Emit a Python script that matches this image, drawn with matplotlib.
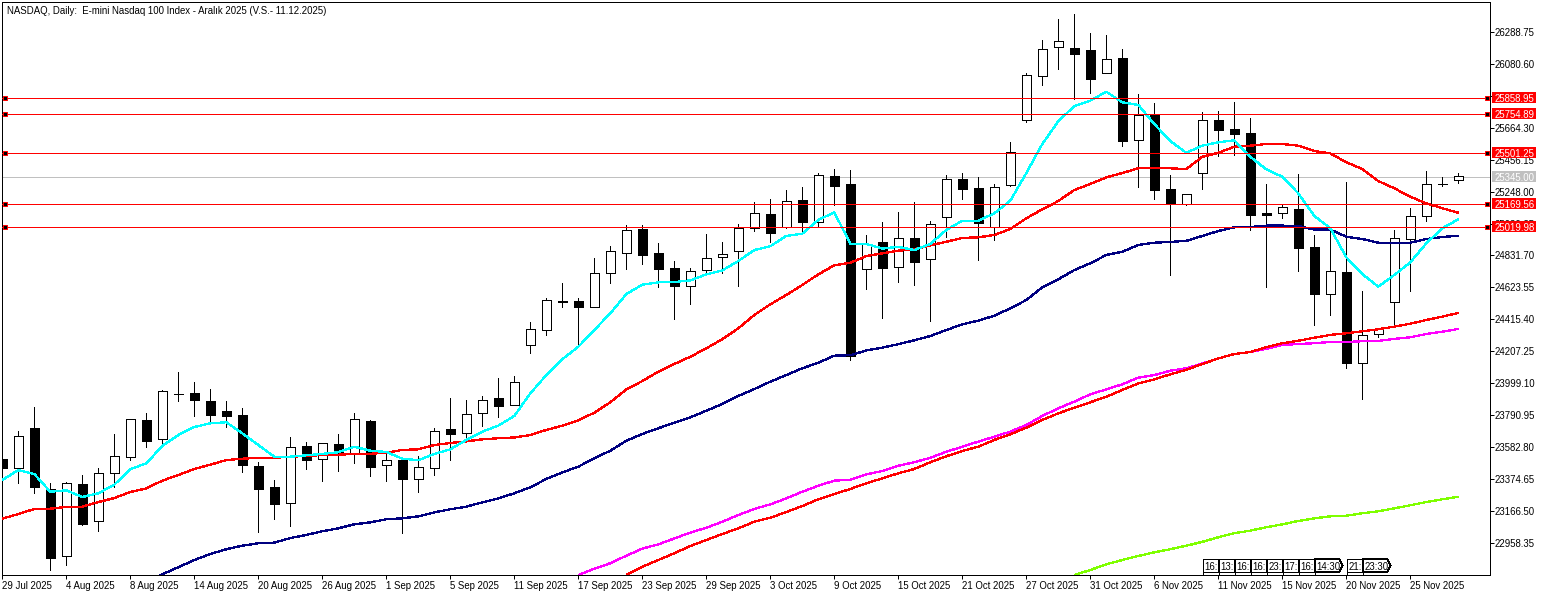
import numpy as np
import matplotlib
matplotlib.use('Agg')
import matplotlib.pyplot as plt
from matplotlib.patches import Polygon, Rectangle
from matplotlib.transforms import blended_transform_factory

plt.rcParams['font.family'] = ['Liberation Sans', 'DejaVu Sans']

# daily candles
open_ = [23508, 23451, 23710, 23311, 22875, 23345, 23107, 23419, 23519, 23762, 23636, 23934, 23935, 23885, 23820, 23794, 23462,
         23326, 23224, 23593, 23506, 23606, 23545, 23753, 23471, 23501, 23376, 23447, 23701, 23675, 23805, 23905, 23857, 24248, 24349,
         24536, 24536, 24499, 24716, 24846, 25004, 24846, 24748, 24631, 24735, 24820, 24859, 25009, 25102, 25015, 25193, 25052, 25349,
         25297, 24742, 24920, 24755, 24946, 24807, 25080, 25327, 25269, 25015, 25288, 25711, 25997, 26186, 26181, 26168, 26017, 26116,
         25581, 25746, 25264, 25165, 25366, 25713, 25655, 25629, 25106, 25106, 25134, 24887, 24579, 24724, 24130, 24319, 24527, 24937,
         25087, 25300, 25321]
high = [23534, 23690, 23844, 23350, 23358, 23404, 23447, 23671, 23768, 23807, 23957, 24074, 24009, 23963, 23885, 23838, 23488, 23371,
        23651, 23619, 23610, 23671, 23807, 23762, 23560, 23508, 23528, 23708, 23903, 23892, 23918, 24033, 24048, 24399, 24553, 24653,
        24553, 24813, 24893, 25028, 25028, 24911, 24794, 24750, 24972, 24920, 25037, 25178, 25199, 25258, 25277, 25366, 25394, 25388,
        24965, 25050, 25115, 25178, 25056, 25355, 25366, 25344, 25297, 25568, 26019, 26233, 26370, 26403, 26279, 26266, 26175, 25880,
        25824, 25355, 25232, 25763, 25772, 25830, 25726, 25297, 25169, 25362, 24965, 25011, 25310, 24601, 24360, 24998, 25141, 25381,
        25342, 25366]
low = [23436, 23354, 23289, 22786, 22820, 23081, 23042, 23328, 23503, 23588, 23593, 23887, 23790, 23740, 23718, 23425, 23035, 23118,
       23074, 23445, 23367, 23432, 23484, 23399, 23367, 23029, 23295, 23404, 23501, 23649, 23725, 23783, 23857, 24199, 24315, 24499,
       24243, 24495, 24655, 24746, 24778, 24629, 24421, 24518, 24720, 24720, 24633, 24993, 24921, 25011, 24980, 25024, 25162, 24152,
       24616, 24427, 24661, 24642, 24408, 24954, 25199, 24804, 24934, 25287, 25700, 25943, 26047, 25852, 25891, 26016, 25546, 25279,
       25199, 24707, 25160, 25266, 25479, 25487, 24998, 24629, 25076, 24733, 24380, 24447, 24100, 23900, 24304, 24369, 24603, 25058,
       25286, 25301]
close = [23451, 23656, 23328, 22866, 23350, 23087, 23415, 23526, 23766, 23627, 23948, 23928, 23892, 23796, 23790, 23471, 23315,
         23217, 23584, 23503, 23610, 23541, 23766, 23458, 23500, 23380, 23454, 23688, 23673, 23799, 23890, 23855, 24007, 24352, 24540,
         24529, 24499, 24716, 24859, 24996, 24837, 24746, 24635, 24729, 24813, 24840, 25009, 25106, 24980, 25184, 25052, 25353, 25286,
         24180, 24907, 24752, 24944, 24791, 25035, 25327, 25266, 25041, 25275, 25507, 26004, 26173, 26225, 26144, 25980, 26108, 25578,
         25744, 25260, 25175, 25230, 25711, 25650, 25624, 25097, 25097, 25145, 24882, 24583, 24729, 24134, 24313, 24352, 24944, 25087,
         25295, 25294, 25347]

# moving averages, the slower ones come in from below the chart
ma_cyan = [23371, 23436, 23410, 23295, 23304, 23261, 23285, 23341, 23441, 23480, 23593, 23664, 23716, 23740, 23747, 23675, 23599,
           23523, 23523, 23532, 23541, 23552, 23588, 23562, 23554, 23510, 23500, 23541, 23571, 23632, 23686, 23725, 23788, 23935, 24054,
           24157, 24238, 24347, 24456, 24581, 24642, 24657, 24659, 24670, 24709, 24735, 24796, 24867, 24892, 24959, 24974, 25063, 25113,
           24907, 24907, 24877, 24888, 24867, 24907, 24998, 25058, 25058, 25106, 25188, 25368, 25557, 25705, 25804, 25839, 25897, 25828,
           25811, 25687, 25576, 25500, 25546, 25568, 25581, 25474, 25392, 25344, 25236, 25089, 25009, 24820, 24711, 24629, 24705, 24787,
           24911, 25009, 25067]
ma_red = [23120, 23150, 23183, 23185, 23196, 23198, 23228, 23254, 23293, 23317, 23367, 23404, 23443, 23471, 23501, 23510, 23516,
          23516, 23523, 23528, 23534, 23536, 23541, 23542, 23549, 23567, 23571, 23599, 23612, 23623, 23636, 23643, 23648, 23664, 23697,
          23725, 23760, 23809, 23877, 23961, 24015, 24076, 24126, 24173, 24228, 24287, 24358, 24445, 24514, 24575, 24640, 24709, 24768,
          24784, 24828, 24846, 24863, 24872, 24898, 24921, 24946, 24950, 24965, 25004, 25074, 25132, 25186, 25258, 25297, 25340, 25368,
          25399, 25403, 25399, 25394, 25474, 25500, 25539, 25546, 25557, 25557, 25546, 25511, 25496, 25438, 25394, 25316, 25269, 25214,
          25171, 25139, 25110]
ma_navy = [22710, 22758, 22804, 22851, 22890, 22921, 22944, 22960, 22964, 22994, 23014, 23038, 23057, 23083, 23096, 23116, 23122,
           23135, 23161, 23181, 23198, 23226, 23252, 23285, 23324, 23378, 23421, 23458, 23513, 23562, 23627, 23671, 23708, 23744, 23779,
           23822, 23866, 23918, 23963, 24011, 24054, 24098, 24134, 24180, 24183, 24214, 24232, 24255, 24280, 24308, 24347, 24384, 24408,
           24440, 24488, 24542, 24625, 24677, 24737, 24781, 24835, 24856, 24900, 24915, 24920, 24927, 24959, 24991, 25015, 25017, 25026,
           25026, 25024, 25000, 25000, 24954, 24939, 24915, 24915, 24915, 24939, 24952, 24960]
ma_magenta = [22753, 22794, 22830, 22879, 22925, 22953, 22991, 23029, 23061, 23100, 23144, 23183, 23213, 23252, 23295, 23334, 23367, 23373, 23408, 23430,
              23464, 23487, 23516, 23555, 23588, 23621, 23653, 23686, 23729, 23788, 23838, 23881, 23929, 23961, 23994, 24037, 24054, 24082, 24098, 24129,
              24162, 24191, 24204, 24225, 24250, 24256, 24261, 24269, 24269, 24274, 24276, 24289, 24300, 24321, 24336, 24354]
ma_red2 = [22753, 22807, 22851, 22895, 22942, 22981, 23020, 23057, 23100, 23126, 23163, 23202, 23246, 23280, 23313, 23350, 23382, 23415, 23443, 23487,
           23526, 23560, 23588, 23632, 23669, 23712, 23762, 23805, 23842, 23877, 23913, 23957, 24000, 24026, 24059, 24088, 24126, 24162, 24191, 24204,
           24235, 24261, 24277, 24297, 24315, 24326, 24339, 24352, 24369, 24388, 24412, 24434, 24458]
ma_green = [22753, 22786, 22823, 22851, 22877, 22901, 22921, 22944, 22969, 22999, 23025, 23042, 23064, 23083, 23105, 23122, 23135, 23139, 23155, 23168,
            23187, 23207, 23228, 23246, 23263]

# horizontal levels and last price
levels = [25858.95, 25754.89, 25501.25, 25169.56, 25019.98]
last_price = 25345.00

# axis labels
price_ticks = [26288.75, 26080.60, 25872.45, 25664.30, 25456.15, 25248.00, 25039.85, 24831.70, 24623.55,
               24415.40, 24207.25, 23999.10, 23790.95, 23582.80, 23374.65, 23166.50, 22958.35]
date_labels = ['29 Jul 2025', '4 Aug 2025', '8 Aug 2025', '14 Aug 2025', '20 Aug 2025', '26 Aug 2025', '1 Sep 2025',
               '5 Sep 2025', '11 Sep 2025', '17 Sep 2025', '23 Sep 2025', '29 Sep 2025', '3 Oct 2025', '9 Oct 2025',
               '15 Oct 2025', '21 Oct 2025', '27 Oct 2025', '31 Oct 2025', '6 Nov 2025', '11 Nov 2025', '15 Nov 2025',
               '20 Nov 2025', '25 Nov 2025']
title = 'NASDAQ, Daily:  E-mini Nasdaq 100 Index - Aralık 2025 (V.S.- 11.12.2025)'

# event flags along the bottom
flag_bars = [75, 76, 77, 78, 79, 80, 81, 82, 84, 85]
flag_labels = ['16:', '13:', '16:', '16:', '23:', '17:', '16:', '14:30', '21:', '23:30']

W, H = 1547, 596
PX = 0.72  # one pixel in points at dpi 100
FONT = 6.9

fig = plt.figure(figsize=(W / 100, H / 100), dpi=100, facecolor='white')
ax = fig.add_axes([2 / W, 1 - 575 / H, 1487.5 / W, 573 / H])
ax.set_xlim(-0.02, 92.95)
ax.set_ylim(22753.45, 26480.64)
for s in ax.spines.values():
    s.set_linewidth(PX)
    s.set_antialiased(False)

x = np.arange(len(open_))
o, h, l, c = map(np.array, (open_, high, low, close))
up = c > o

# last price sits under the candles
ax.axhline(last_price, color='#c0c0c0', lw=PX, zorder=1, antialiased=False)

ax.vlines(x, l, h, color='black', lw=PX, zorder=2, antialiased=False)
ax.bar(x[up], (c - o)[up], bottom=o[up], width=0.6, color='white', edgecolor='black', lw=PX, zorder=3, antialiased=False)
ax.bar(x[~up], (o - c)[~up], bottom=c[~up], width=0.6, color='black', edgecolor='black', lw=PX, zorder=3, antialiased=False)

# moving averages, aligned on the last bar
for vals, col in [(ma_green, '#7fff00'), (ma_magenta, '#ff00ff'), (ma_red2, '#ff0000'),
                  (ma_navy, '#000080'), (ma_red, '#ff0000'), (ma_cyan, '#00ffff')]:
    xs = x[-len(vals):]
    ax.plot(xs, vals, color=col, lw=1.3 * PX, zorder=4, solid_capstyle='butt', antialiased=False)

# levels with their square handles
tr = blended_transform_factory(ax.transAxes, ax.transData)
for lv in levels:
    ax.axhline(lv, color='#ff0000', lw=PX, zorder=5, antialiased=False)
    ax.plot([0.0022, 0.998], [lv, lv], ls='none', marker='s', ms=4.5 * PX, mfc='black', mec='#ff0000', mew=PX,
            transform=tr, zorder=6, antialiased=False)

# ticks and labels
ax.yaxis.tick_right()
ax.set_yticks(price_ticks)
ax.set_yticklabels(['%.2f' % v for v in price_ticks], fontsize=FONT)
ax.tick_params(axis='y', length=4 * PX, width=PX, pad=0.6)
ax.set_xticks(x[::4][:len(date_labels)])
ax.set_xticklabels(date_labels, fontsize=FONT, ha='left')
ax.tick_params(axis='x', length=4 * PX, width=PX, pad=1.5)

# price tags on the right, they cover the tick labels
ftr = blended_transform_factory(fig.transFigure, ax.transData)
box_h = 10.4 * (26480.64 - 22753.45) / 573
for lv, col in [(v, '#ff0000') for v in levels] + [(last_price, '#c0c0c0')]:
    ax.add_patch(Rectangle((1492.3 / W, lv - box_h / 2), 43.7 / W, box_h, transform=ftr, facecolor=col,
                           edgecolor='none', clip_on=False, zorder=8, antialiased=False))
    ax.text(1494.7 / W, lv, '%.2f' % lv, transform=ftr, color='white', fontsize=FONT, va='center_baseline', ha='left',
            clip_on=False, zorder=9)

# event flags, sized in pixels from the bottom of the chart
def add_flag(bar, label):
    x0 = bar + 0.02
    wide = ':30' in label
    w = (25 if wide else 15) / 16
    tip = 3 / 16
    y0, y1 = (575 - 571.7) / 573, (575 - 559.3) / 573
    pts = [(x0, y1), (x0 + w, y1), (x0 + w + tip, (y0 + y1) / 2), (x0 + w, y0), (x0, y0)] if wide else \
          [(x0, y1), (x0 + w, y1), (x0 + w, y0), (x0, y0)]
    t = blended_transform_factory(ax.transData, ax.transAxes)
    ax.add_patch(Polygon(pts, closed=True, transform=t, facecolor='white', edgecolor='black', lw=PX, zorder=7,
                         antialiased=False))
    ax.plot([x0, x0], [0, y0], color='black', lw=PX, transform=t, zorder=7, antialiased=False)
    ax.text(x0 + 1.5 / 16, (y0 + y1) / 2, label, transform=t, fontsize=FONT, va='center_baseline', ha='left', zorder=8)

for bar, label in zip(flag_bars, flag_labels):
    add_flag(bar, label)

fig.text(7 / W, 1 - 9.5 / H, title, fontsize=FONT, va='center_baseline', ha='left')

fig.savefig('out.png', dpi=100)
